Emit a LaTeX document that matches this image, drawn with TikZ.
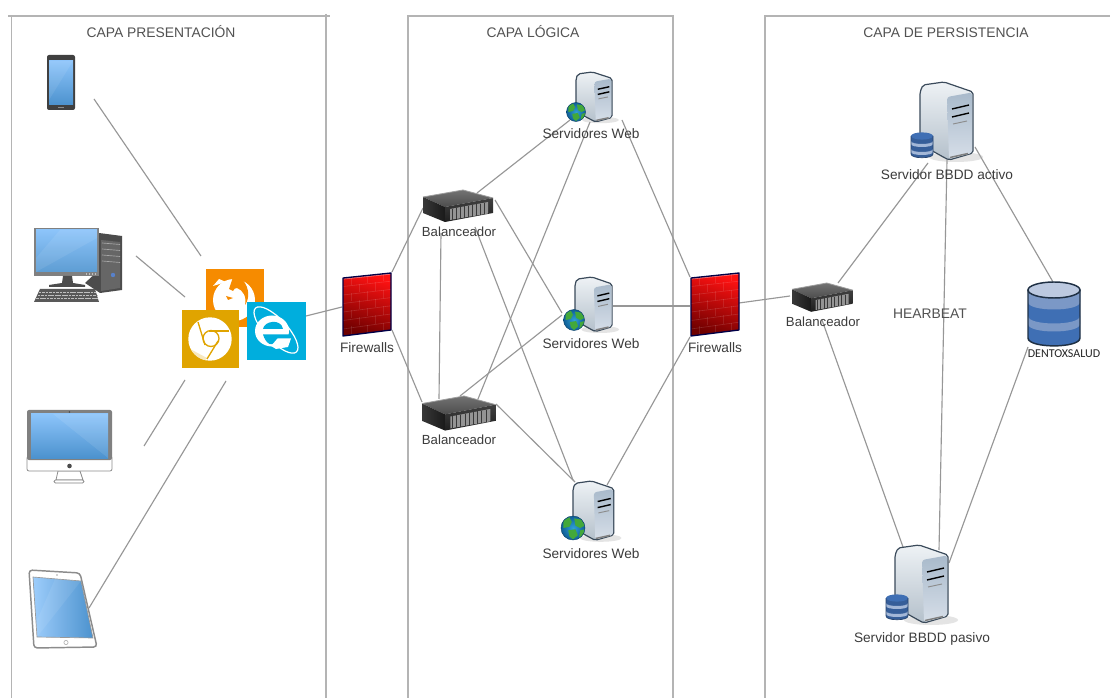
\documentclass[tikz,border=0pt]{standalone}
\usepackage{fontspec}
\setmainfont{Liberation Sans}
\newfontfamily\dentfont{Carlito}
\definecolor{lanecol}{HTML}{B4B4B4}
\definecolor{conncol}{HTML}{979797}
\definecolor{txtcol}{HTML}{3C3C3C}
\definecolor{scrtop}{HTML}{8CC4FA}
\definecolor{scrbot}{HTML}{4C92CE}
\definecolor{ffor}{HTML}{F68B00}
\definecolor{chgold}{HTML}{E0A400}
\definecolor{ieblue}{HTML}{00AEDD}
\definecolor{edgeblue}{HTML}{3B4B5B}
\definecolor{cyldark}{HTML}{3F6FB4}
\definecolor{cyllight}{HTML}{7B98C6}
\definecolor{cyltop}{HTML}{BCC9E0}
\definecolor{cyledge}{HTML}{1F3044}
\definecolor{globeA}{HTML}{2FA0D6}
\definecolor{globeB}{HTML}{0F5E96}
\definecolor{globeG}{HTML}{43A83A}
\definecolor{panelA}{HTML}{A9BACB}
\definecolor{panelB}{HTML}{D6DEE8}
\definecolor{bodyA}{HTML}{EEF2F5}
\definecolor{bodyB}{HTML}{B4C0CB}
\definecolor{fwA}{HTML}{FF1212}
\definecolor{fwB}{HTML}{E00C0C}
\definecolor{fwC}{HTML}{6E0000}
\tikzset{
  laneline/.style={draw=lanecol,line width=1.1pt},
  conn/.style={draw=conncol,line width=0.85pt},
  iconbox/.style={inner sep=0pt,outer sep=0pt,draw=none},
  lbl/.style={inner sep=0pt,anchor=base,text=txtcol,font=\fontsize{10.25}{12}\selectfont},
  ballbl/.style={lbl,font=\fontsize{9.9}{12}\selectfont},
  title/.style={inner sep=0pt,anchor=base,text=black!68,font=\fontsize{10.4}{12}\selectfont},
  dentlbl/.style={inner sep=0pt,anchor=base,text=black!85,font=\dentfont\fontsize{9}{10}\selectfont},
  firewall/.pic={
    \shade[top color=fwA,middle color=fwB,bottom color=fwC,shading angle=-18]
      (0,5)--(48,0)--(48,57)--(0,63)--cycle;
    \begin{scope}
      \clip (0,5)--(48,0)--(48,57)--(0,63)--cycle;
      \foreach \i in {1,...,6}{
        \draw[white,opacity=.14,line width=.45pt] (0,{5+8.5*\i})--(48,{8.2*\i});
      }
      \foreach \i in {0,2,4,6}{
        \foreach \c in {8,24,40}{
          \draw[white,opacity=.1,line width=.4pt] (\c,{4.2+8.3*\i-\c*.1})--(\c,{12.5+8.3*\i-\c*.1});
        }
      }
      \foreach \i in {1,3,5}{
        \foreach \c in {16,32}{
          \draw[white,opacity=.1,line width=.4pt] (\c,{4.2+8.3*\i-\c*.1})--(\c,{12.5+8.3*\i-\c*.1});
        }
      }
      \draw[white,opacity=.4,line width=1pt] (0,5.8)--(48,.8);
    \end{scope}
    \draw[draw=black!72!blue,line width=1pt,line join=round] (0,5)--(48,0)--(48,57)--(0,63)--cycle;
  },
  balancer/.pic={
    \shade[top color=black!55,bottom color=black!70] (0,7)--(40,0)--(70,8)--(22,17)--cycle;
    \shade[left color=black!78,right color=black!90] (0,7)--(22,17)--(22,32)--(0,23)--cycle;
    \shade[top color=black!75,bottom color=black!88] (22,17)--(70,8)--(70,23)--(22,32)--cycle;
    \fill[black!42] (27,19)--(65,12)--(65,23.5)--(27,30)--cycle;
    \foreach \c in {29,33,37,41,45,49,53,57,61}{
      \draw[black!78,line width=.55pt] (\c,{25-.18*(\c-27)-6})--(\c,{30.5-.18*(\c-27)});
    }
    \draw[black!38,line width=.6pt] (70,8)--(40,0)--(0,7);
  },
  server/.pic={
    \fill[black!30,opacity=.35] (36,75) circle[x radius=27,y radius=5];
    \shade[top color=bodyA,bottom color=bodyB,draw=edgeblue,line width=.9pt,line join=round,rounded corners=1.5]
      (0,10)--(3,3)--(24,0)--(53,10)--(53,71)--(29,78)--(25,76)--(0,62)--cycle;
    \shade[top color=panelA,middle color=panelB,bottom color=panelB,rounded corners=2]
      (27,15)--(52,10.5)--(52,71)--(29,77)--cycle;
    \draw[black,line width=1.05pt] (32,27)--(49,23) (32,35)--(49,31);
    \draw[black!45,line width=.7pt] (33,42)--(47,39);
    \draw[black!50,line width=1.1pt] (30,75.5)--(48,71.5);
  },
  globe/.pic={
    \shade[inner color=globeA,outer color=globeB] (0,0) circle[radius=10];
    \begin{scope}
      \clip (0,0) circle[radius=10];
      \fill[globeG] (-8,-6)--(-3,-9)--(-1,-5)--(-3,-1)--(-8,0)--cycle;
      \fill[globeG] (1,-8)--(7,-7)--(10,-2)--(6,0)--(2,-2)--cycle;
      \fill[globeG] (-4,2)--(2,1)--(4,6)--(0,9.5)--(-3,7)--cycle;
      \fill[globeG] (6,2)--(10,1)--(9,6)--(5,8)--cycle;
    \end{scope}
    \draw[globeB!70!black,line width=.35pt] (0,0) circle[radius=10];
  },
  cylinder/.pic={
    \fill[cyldark] (0,8)--(0,56).. controls (0,66.5) and (52,66.5) .. (52,56)--(52,8)--cycle;
    \fill[cyllight] (0,8)--(52,8)--(52,20).. controls (52,30) and (0,30) .. (0,20)--cycle;
    \fill[cyllight] (0,34).. controls (0,44) and (52,44) .. (52,34)--(52,42).. controls (52,52) and (0,52) .. (0,42)--cycle;
    \fill[cyltop] (26,8) circle[x radius=26,y radius=8];
    \draw[cyledge,line width=1.1pt] (0,8)--(0,56).. controls (0,66.5) and (52,66.5) .. (52,56)--(52,8);
    \draw[cyledge,line width=1.1pt] (26,8) circle[x radius=26,y radius=8];
  },
  smallcyl/.pic={
    \fill[cyldark!85!black] (0,4)--(0,22).. controls (0,27) and (22,27) .. (22,22)--(22,4)--cycle;
    \fill[cyllight!70!white] (0,9).. controls (0,13) and (22,13) .. (22,9)--(22,12).. controls (22,16) and (0,16) .. (0,12)--cycle;
    \fill[cyllight!70!white] (0,17).. controls (0,21) and (22,21) .. (22,17)--(22,20).. controls (22,24) and (0,24) .. (0,20)--cycle;
    \fill[cyldark] (11,4) circle[x radius=11,y radius=3.6];
    \draw[cyldark!60!black,line width=.5pt] (0,4)--(0,22).. controls (0,27) and (22,27) .. (22,22)--(22,4);
  }
}
\newcommand{\conn}[4]{\draw[conn] ([shift={(#2)}]#1.center) -- ([shift={(#4)}]#3.center);}
\begin{document}
\begin{tikzpicture}[x=0.75pt,y=-0.75pt]
\useasboundingbox (0,0) rectangle (1110,698);
\fill[white] (0,0) rectangle (1110,698);

% lanes
\draw[laneline] (8,16)--(330,16) (11.5,16)--(11.5,698) (326,14)--(326,698);
\draw[laneline] (408,698)--(408,16)--(673,16)--(673,698);
\draw[laneline] (765,698)--(765,16)--(1110,16);
\node[title] (t1) at (161,38) {CAPA PRESENTACIÓN};
\node[title] (t2) at (533,38) {CAPA LÓGICA};
\node[title] (t3) at (946,38) {CAPA DE PERSISTENCIA};

% anchoring nodes of the icons
\node[iconbox,minimum width=21pt,minimum height=41pt] (phone) at (61,82) {};
\node[iconbox,minimum width=66pt,minimum height=55pt] (desk) at (78,265) {};
\node[iconbox,minimum width=64pt,minimum height=55pt] (imac) at (69.5,447) {};
\node[iconbox,minimum width=51pt,minimum height=59pt] (tablet) at (63,609) {};
\node[iconbox,minimum width=44pt,minimum height=44pt] (ff) at (235,298) {};
\node[iconbox,minimum width=44pt,minimum height=44pt] (chrome) at (210.5,339) {};
\node[iconbox,minimum width=44pt,minimum height=44pt] (ie) at (276.5,331) {};
\node[iconbox,minimum width=37pt,minimum height=48pt] (fw1) at (367,304) {};
\node[iconbox,minimum width=37pt,minimum height=48pt] (fw2) at (714,304) {};
\node[iconbox,minimum width=54pt,minimum height=24pt] (bal1) at (458,206) {};
\node[iconbox,minimum width=55pt,minimum height=25pt] (bal2) at (459,413) {};
\node[iconbox,minimum width=46pt,minimum height=21pt] (bal3) at (822.5,297) {};
\node[iconbox,minimum width=27pt,minimum height=38pt] (web1) at (594,97) {};
\node[iconbox,minimum width=28pt,minimum height=41pt] (web2) at (594,304) {};
\node[iconbox,minimum width=31pt,minimum height=44pt] (web3) at (593,510) {};
\node[iconbox,minimum width=40pt,minimum height=58pt] (act) at (947,121) {};
\node[iconbox,minimum width=40pt,minimum height=58pt] (pas) at (921,584) {};
\node[iconbox,minimum width=39pt,minimum height=48pt] (dent) at (1054,314) {};

% connectors
\conn{phone}{33,17}{ff}{-34,-42}
\conn{desk}{58,-9}{chrome}{-25.5,-42}
\conn{imac}{74.5,-1}{chrome}{-25.5,41}
\conn{tablet}{26,-1}{chrome}{15.5,42}
\conn{ie}{29.5,-15}{fw1}{-25,3}
\conn{fw1}{25,-32}{bal1}{-35,2}
\conn{fw1}{25,26}{bal2}{-37,-11}
\conn{bal1}{-17,27}{bal2}{-20,-14}
\conn{bal1}{19,-13}{web1}{-24,23}
\conn{bal1}{37,-6}{web2}{-32,9}
\conn{bal1}{17,21}{web3}{-20,-30}
\conn{bal2}{19,-14}{web1}{-4,25}
\conn{bal2}{1,-17}{web2}{-32,11}
\conn{bal2}{37,-9}{web3}{-18,-28}
\conn{web1}{28,23}{fw2}{-24,-27}
\conn{web2}{19,2}{fw2}{-24,2}
\conn{web3}{14,-25}{fw2}{-24,33}
\conn{fw2}{25,-1}{bal3}{-32.5,-1}
\conn{bal3}{15.5,-14}{act}{-19,42}
\conn{act}{0,39}{pas}{18,-34}
\conn{act}{28,26}{dent}{-1,-32}
\conn{bal3}{-0.5,23}{pas}{-18,-37}
\conn{dent}{-26,33}{pas}{28,-21}

% phone
\fill[black!75,rounded corners=1.5] (47,55) rectangle (75,110);
\shade[top color=scrtop,bottom color=scrbot] (49,61) rectangle (73,105);
\fill[white,opacity=.08] (49,61)--(73,61)--(49,100)--cycle;
\draw[black!45,line width=.6pt] (58,107.5)--(64,107.5);

% desktop
\fill[black!70] (99,233)--(122,236)--(122,290)--(100,293)--(85,283)--(99,270)--cycle;
\fill[black!60] (101,240)--(120,242)--(120,288)--(101,291)--cycle;
\foreach \yy in {243,249,255,261}{\draw[black!35,line width=.5pt] (102,\yy)--(120,{\yy+1.5});}
\fill[cyan!40!blue!70] (113,275) circle[radius=2.2];
\fill[black!50] (34,228) rectangle (99,276);
\shade[top color=scrtop,bottom color=scrbot!90!white] (36,230) rectangle (97,272);
\fill[white,opacity=.08] (60,230)--(97,230)--(97,238)--(36,272)--(36,258)--cycle;
\foreach \xx in {87,90,93,96}{\fill[black!25] (\xx-1,273.5) rectangle (\xx,274.7);}
\fill[black!70] (63,276)--(72,276)--(73,283)--(85,285)--(85,287)--(49,287)--(49,285)--(62,283)--cycle;
\fill[black!65] (40,289)--(95,289)--(99,302)--(34,302)--cycle;
\foreach \yy in {292,295,298}{\draw[black!25,line width=.5pt,dash pattern=on 2pt off .6pt] ({40-(\yy-289)*.4},\yy)--({95+(\yy-289)*.3},\yy);}

% imac
\fill[white,draw=black!45,line width=.6pt] (58,471)--(56,480)--(83,480)--(80,471)--cycle;
\fill[white,draw=black!50,line width=.6pt,rounded corners=1] (54,480) rectangle (84,483);
\fill[white,draw=black!45,line width=.6pt,rounded corners=1.5] (27,456) rectangle (112,471);
\fill[black!50,rounded corners=1.5] (27,410) rectangle (112,460);
\shade[top color=scrtop,bottom color=scrbot] (31,414) rectangle (108,458);
\fill[white,opacity=.09] (53,414)--(108,414)--(108,458)--cycle;
\fill[black!70] (69.5,466) circle[radius=2.3];
\fill[black!70] (69.5,412) circle[radius=.9];

% tablet
\fill[white,draw=black!45,line width=1.1pt,rounded corners=2.5] (29,570)--(80,573)--(97,647)--(34,648)--cycle;
\shade[left color=scrtop!85!white,right color=scrbot,draw=black!40,line width=.5pt] (33,577)--(81,581)--(93,638)--(37,637)--cycle;
\fill[white,opacity=.08] (55,579)--(81,581)--(37,637)--(35,625)--cycle;
\draw[black!30,line width=.5pt] (66,642.5) circle[radius=2.1];
\fill[black!35] (57,575) circle[radius=.9];

% browsers
\fill[ffor] (206,269) rectangle (264,327);
\fill[white] (234,300) circle[radius=21];
\fill[white] (213,286)--(219,279)--(226,282)--cycle;
\fill[ffor] (233,277)--(243,277)--(243.5,281) .. controls (249,288) and (250,298) .. (245,305) .. controls (247,297) and (243,290) .. (237,288) .. controls (235,288) and (234,289) .. (233,291)--(229,289) .. controls (230,286) and (231,283) .. (233,277)--cycle;
\fill[ffor] (226,296)--(233,298)--(228,300)--cycle;
\fill[chgold] (181.7,310) rectangle (239,368);
\fill[white] (210,339) circle[radius=21.7];
\begin{scope}
  \clip (210,339) circle[radius=21.7];
  \fill[chgold!25] (192,350)--(207,358)--(203,362)--(188,356)--cycle;
  \draw[chgold,line width=1pt] (211,338.5) circle[radius=8];
  \draw[chgold,line width=1pt] (198,322)--(205,345);
  \draw[chgold,line width=1pt] (209,331)--(229,331);
  \draw[chgold,line width=1pt] (218,341)--(207,359);
\end{scope}
\fill[ieblue] (247,302) rectangle (306,360);
\begin{scope}
  \clip (247,302) rectangle (306,360);
  \draw[white,line width=.9pt] (276,330) circle[x radius=30,y radius=11,rotate=-47];
\end{scope}
\fill[white] (272,331) circle[x radius=17,y radius=15.5];
\fill[ieblue] (263,329)..controls (264,321) and (281,318) .. (283,329)--cycle;
\fill[ieblue] (263,334.5)--(290,334.5)--(290,340)--(278,340)--(279,341) .. controls (272,348) and (266,344) .. (263,334.5)--cycle;
\fill[white] (277.5,338.5)--(291,338.5)--(288,347)--(276,349)--(271,346)--cycle;

% firewalls
\pic at (343,273) {firewall};
\pic at (691,273) {firewall};

% balancers
\pic at (423,190) {balancer};
\pic[xscale=1.05,yscale=1.08] at (422,396) {balancer};
\pic[xscale=.87,yscale=.9] at (792,283) {balancer};

% servers
\pic[xscale=.68,yscale=.64] at (576,72) {server};
\pic[xscale=.7,yscale=.7] at (575,277) {server};
\pic[xscale=.77,yscale=.76] at (573,481) {server};
\pic at (920,82) {server};
\pic at (895,545) {server};
\pic[scale=.95] at (576,112) {globe};
\pic[scale=1.05] at (574,320) {globe};
\pic[scale=1.2] at (573,528) {globe};
\pic at (911,132) {smallcyl};
\pic at (886,594) {smallcyl};
\pic at (1028,282) {cylinder};

% labels
\node[lbl] (l1) at (591,139) {Servidores Web};
\node[lbl] (l2) at (591,349) {Servidores Web};
\node[lbl] (l3) at (591,558) {Servidores Web};
\node[ballbl] (l4) at (459,237) {Balanceador};
\node[ballbl] (l5) at (459,444.5) {Balanceador};
\node[ballbl] (l6) at (823,326.5) {Balanceador};
\node[lbl] (l7) at (367,353) {Firewalls};
\node[lbl] (l8) at (715,353) {Firewalls};
\node[lbl] (l9) at (947,180) {Servidor BBDD activo};
\node[lbl] (l10) at (922,642.5) {Servidor BBDD pasivo};
\node[title] (l11) at (930,319) {HEARBEAT};
\node[dentlbl] (l12) at (1064,358) {DENTOXSALUD};
\end{tikzpicture}
\end{document}
